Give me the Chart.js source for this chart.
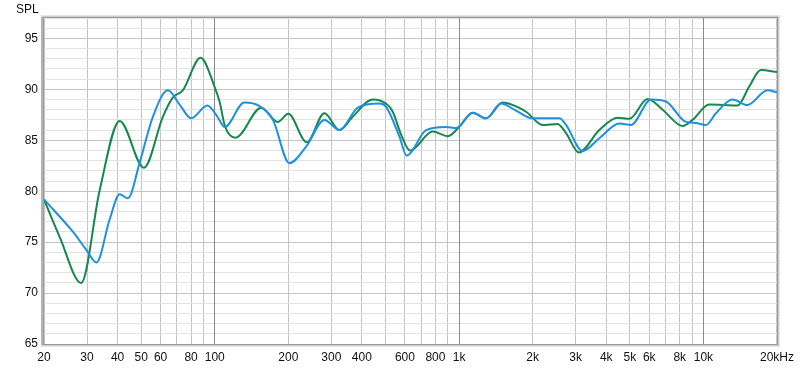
<!DOCTYPE html>
<html><head><meta charset="utf-8">
<script src="https://cdn.jsdelivr.net/npm/chart.js@4.4.1/dist/chart.umd.min.js"></script>
<style>html,body{margin:0;padding:0;background:#fff;overflow:hidden;} #wrap{width:800px;height:369px;}</style>
</head><body><div id="wrap"><canvas id="c" width="800" height="369"></canvas></div>
<script>
const greenFreq = [20, 23.2, 28.4, 33.8, 40.8, 51.3, 61.3, 67.4, 74, 87.5, 100, 104.6, 110, 121.6, 155, 181, 200, 238, 281, 324, 367, 443, 502, 535, 580, 630, 780, 899, 1000, 1137, 1289, 1507, 1683, 1880, 2197, 2531, 2739, 3090, 3749, 4453, 4973, 5906, 6808, 8219, 9020, 10560, 11970, 13780, 15380, 17180, 20000];
const greenSPL  = [79.2, 75.5, 71.0, 80.1, 86.9, 82.3, 87.3, 89.2, 89.9, 93.1, 90.2, 88.8, 86.4, 85.25, 88.2, 86.8, 87.6, 84.8, 87.65, 86.0, 87.3, 89.0, 88.6, 87.8, 85.5, 84.0, 85.85, 85.4, 86.3, 87.7, 87.15, 88.7, 88.4, 87.8, 86.5, 86.6, 85.7, 83.8, 86.0, 87.2, 87.1, 89.05, 88.0, 86.4, 87.0, 88.5, 88.46, 88.4, 90.25, 91.9, 91.7];

const blueFreq = [20, 26.3, 29.8, 32.8, 37.1, 40.8, 44.1, 49.2, 55.8, 64.3, 71.8, 80.1, 93.2, 101.4, 110, 132, 152.5, 173, 202, 237, 281, 324, 385, 472, 502, 570, 610, 733, 885, 972, 1137, 1289, 1485, 1711, 2000, 2573, 2739, 3200, 3749, 4524, 5052, 6100, 7022, 8482, 9300, 10240, 11250, 13160, 15140, 18280, 20000];
const blueSPL  = [79.2, 76.0, 74.25, 73.0, 77.2, 79.7, 79.3, 82.75, 87.3, 89.9, 88.5, 87.15, 88.4, 87.5, 86.3, 88.7, 88.35, 87.0, 82.75, 84.4, 87.0, 86.0, 88.2, 88.6, 88.3, 85.35, 83.5, 86.0, 86.3, 86.2, 87.7, 87.15, 88.6, 87.9, 87.15, 87.15, 86.5, 83.95, 85.2, 86.65, 86.5, 89.0, 88.8, 86.8, 86.7, 86.5, 87.65, 89.0, 88.46, 89.9, 89.7];

const xTickValues = [20,30,40,50,60,70,80,90,100,200,300,400,500,600,700,800,900,1000,2000,3000,4000,5000,6000,7000,8000,9000,10000,20000];
const xTickLabels = ['20','30','40','50','60','','80','','100','200','300','400','','600','','800','','1k','2k','3k','4k','5k','6k','','8k','','10k','20kHz'];
const decadeLines = [100, 1000, 10000];
const yTickValues = [65,66,67,68,69,70,71,72,73,74,75,76,77,78,79,80,81,82,83,84,85,86,87,88,89,90,91,92,93,94,95,96,97];
const yLabelStep = 5;

const toPoints = (fs, vs) => fs.map((f, i) => ({x: f, y: vs[i]}));
const FONT = {family: "'Liberation Sans', Arial, sans-serif", size: 12};

const framePlugin = {
  id: 'frame',
  beforeDatasetsDraw(chart) {
    const {ctx, chartArea: a, scales} = chart;
    ctx.save();
    ctx.strokeStyle = '#8a8a8a';
    ctx.lineWidth = 1;
    decadeLines.forEach(v => {
      const px = Math.round(scales.x.getPixelForValue(v) - 0.5) + 0.5;
      ctx.beginPath(); ctx.moveTo(px, a.top); ctx.lineTo(px, a.bottom); ctx.stroke();
    });
    ctx.restore();
  },
  afterDraw(chart) {
    const {ctx, chartArea: a} = chart;
    ctx.save();
    ctx.strokeStyle = '#e6e6e6';
    ctx.lineWidth = 1;
    ctx.strokeRect(a.left - 2.5, a.top - 2.5, a.right - a.left + 5, a.bottom - a.top + 5);
    ctx.strokeStyle = '#cccccc';
    ctx.strokeRect(a.left - 1.5, a.top - 1.5, a.right - a.left + 3, a.bottom - a.top + 3);
    ctx.strokeStyle = '#9a9a9a';
    ctx.strokeRect(a.left - 0.5, a.top - 0.5, a.right - a.left + 1, a.bottom - a.top + 1);
    ctx.fillStyle = '#b4b4b4';
    ctx.fillRect(a.left - 3, a.top - 1, 2, a.bottom - a.top + 2);
    ctx.fillStyle = '#111';
    ctx.font = "12px 'Liberation Sans', Arial, sans-serif";
    ctx.textBaseline = 'alphabetic';
    ctx.textAlign = 'left';
    ctx.fillText('SPL', 16, 13);
    ctx.restore();
  }
};

new Chart(document.getElementById('c'), {
  type: 'line',
  data: {
    datasets: [
      {data: toPoints(blueFreq, blueSPL), borderColor: '#1e90e2', borderWidth: 2, cubicInterpolationMode: 'monotone', pointRadius: 0, fill: false},
      {data: toPoints(greenFreq, greenSPL), borderColor: '#138a4b', borderWidth: 2, cubicInterpolationMode: 'monotone', pointRadius: 0, fill: false}
    ]
  },
  options: {
    responsive: false, animation: false, devicePixelRatio: 1,
    layout: {padding: {left: 0, right: 22, top: 18, bottom: 0}},
    plugins: {legend: {display: false}, tooltip: {enabled: false}, title: {display: false}},
    scales: {
      x: {
        type: 'logarithmic', min: 20, max: 20000,
        afterBuildTicks: (s) => { s.ticks = xTickValues.map(v => ({value: v})); },
        afterFit: (s) => { s.height = 25; },
        ticks: {autoSkip: false, maxRotation: 0, minRotation: 0, padding: 6, color: '#111', font: FONT,
          callback: (v, i) => xTickLabels[i]},
        grid: {drawTicks: false, lineWidth: 1,
          color: (c) => (c.tick && decadeLines.includes(c.tick.value) ? '#8a8a8a' : '#c4c4c4')},
        border: {display: false}
      },
      y: {
        min: 65, max: 97,
        afterBuildTicks: (s) => { s.ticks = yTickValues.map(v => ({value: v})); },
        afterFit: (s) => { s.width = 44; },
        ticks: {autoSkip: false, padding: 6, color: '#111', font: FONT,
          callback: (v) => (v % yLabelStep === 0 ? String(v) : '')},
        grid: {drawTicks: false, lineWidth: 1,
          color: (c) => (c.tick && c.tick.value % yLabelStep === 0 ? '#c4c4c4' : '#e2e2e2')},
        border: {display: false}
      }
    }
  },
  plugins: [framePlugin]
});
</script>
</body></html>
